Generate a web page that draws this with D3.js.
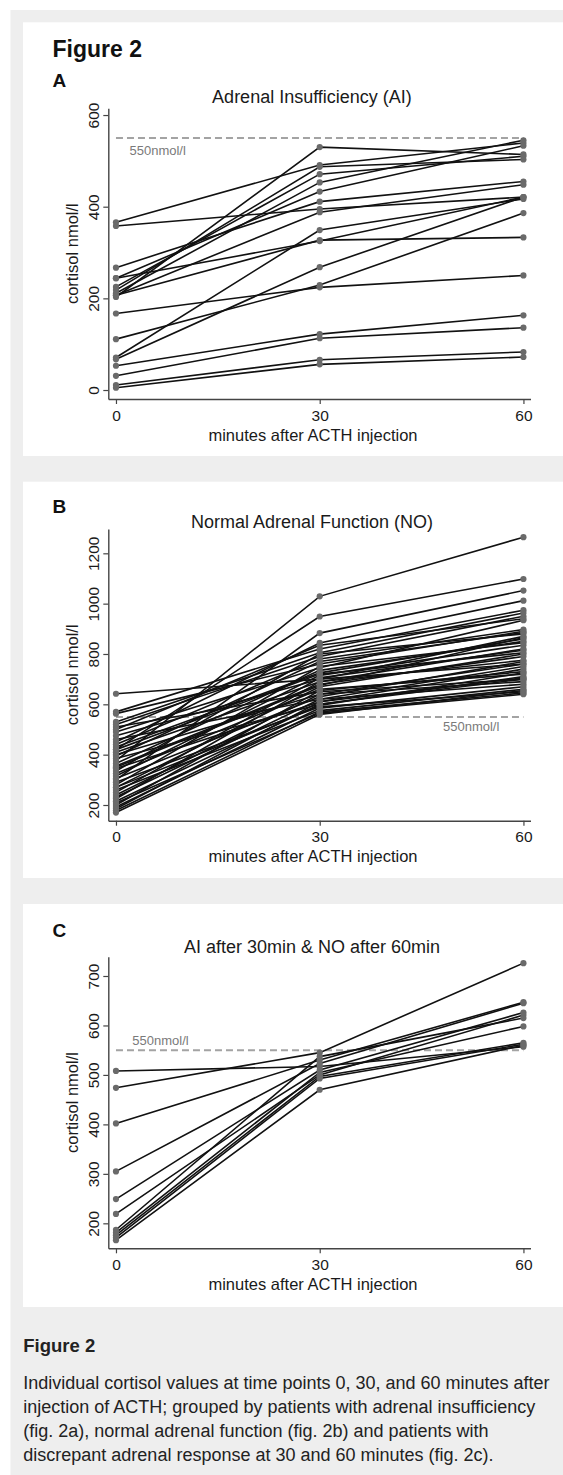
<!DOCTYPE html>
<html>
<head>
<meta charset="utf-8">
<script src="https://cdn.jsdelivr.net/npm/d3@7"></script>
<style>
  html, body { margin: 0; padding: 0; background: #ffffff; }
  svg { display: block; }
</style>
</head>
<body>
<div id="chart"></div>
<script>
// ---------------- DATA ----------------
const timePoints = [0, 30, 60];
const xTickLabels = ["0", "30", "60"];
const referenceValue = 550;
const referenceLabel = "550nmol/l";

const panelLetters = ["A", "B", "C"];
const panelTitles = [
  "Adrenal Insufficiency (AI)",
  "Normal Adrenal Function (NO)",
  "AI after 30min & NO after 60min"
];
const xAxisTitle = "minutes after ACTH injection";
const yAxisTitle = "cortisol nmol/l";

// Panel A: adrenal insufficiency (one entry per patient)
const aiT0  = [203, 366, 218, 225, 211, 244, 267, 358, 207,  71, 207, 244,  67, 111, 167,  53,  31,  11,   5];
const aiT30 = [530, 491, 487, 471, 453, 433, 411, 395, 388, 349, 327, 325, 268, 229, 224, 122, 113,  66,  56];
const aiT60 = [514, 539, 503, 510, 545, 533, 455, 421, 448, 417, 333, 421, 421, 386, 250, 163, 136,  83,  72];
const yTicksA = [0, 200, 400, 600];

// Panel B: normal adrenal function
const noT0  = [375, 420, 300, 450, 642, 570, 563, 530, 520, 510, 500, 490, 475, 460, 440,
               430, 410, 400, 395, 385, 365, 355, 345, 335, 325, 315, 305, 290, 280, 270,
               260, 250, 240, 232, 225, 215, 208, 200, 192, 185, 178, 170, 350, 420, 270];
const noT30 = [1029, 949, 883, 844, 700, 820, 760, 805, 790, 650, 835, 745, 700, 620, 780,
               725, 690, 640, 770, 600, 735, 680, 610, 800, 660, 715, 630, 590, 750, 670,
               575, 705, 640, 620, 690, 600, 565, 655, 585, 610, 570, 560, 675, 720, 595];
const noT60 = [1264, 1098, 1052, 1012, 760, 974, 890, 963, 950, 700, 940, 934, 870, 680, 897,
               860, 820, 760, 885, 700, 850, 790, 740, 880, 720, 835, 770, 650, 845, 800,
               660, 815, 690, 750, 775, 710, 640, 730, 670, 705, 645, 655, 865, 805, 725];
const yTicksB = [200, 400, 600, 800, 1000, 1200];

// Panel C: AI after 30 min & NO after 60 min
const dsT0  = [508, 474, 402, 305, 249, 219, 187, 181, 176, 171, 166];
const dsT30 = [517, 545, 530, 523, 510, 500, 537, 505, 497, 493, 470];
const dsT60 = [557, 726, 647, 645, 626, 621, 615, 598, 565, 562, 560];
const yTicksC = [200, 300, 400, 500, 600, 700];

// Caption
const captionTitle = "Figure 2";
const captionLines = [
  "Individual cortisol values at time points 0, 30, and 60 minutes after",
  "injection of ACTH; grouped by patients with adrenal insufficiency",
  "(fig. 2a), normal adrenal function (fig. 2b) and patients with",
  "discrepant adrenal response at 30 and 60 minutes (fig. 2c)."
];
const figureHeading = "Figure 2";

// ---------------- LAYOUT ----------------
const W = 563, H = 1475;
const FONT = "'Liberation Sans', Arial, Helvetica, sans-serif";
const axisLeftX = 108.3, axisRightX = 530.5;
const xDomain = [-1.13, 61.04];

const panels = [
  { letter: panelLetters[0], title: panelTitles[0], t0: aiT0, t30: aiT30, t60: aiT60, yTicks: yTicksA,
    yDomain: [-19.6, 614.7], top: 22.3, bottom: 456, axisTop: 108.3, axisBottom: 399,
    letterY: 87.3, titleY: 103.3, refX: 129.5, refDy: 17.3 },
  { letter: panelLetters[1], title: panelTitles[1], t0: noT0, t30: noT30, t60: noT60, yTicks: yTicksB,
    yDomain: [137.6, 1296.6], top: 481.7, bottom: 878, axisTop: 529, axisBottom: 820.7,
    letterY: 513.3, titleY: 528, refX: 443, refDy: 14.4 },
  { letter: panelLetters[2], title: panelTitles[2], t0: dsT0, t30: dsT30, t60: dsT60, yTicks: yTicksC,
    yDomain: [149.5, 739], top: 904, bottom: 1307, axisTop: 956.7, axisBottom: 1248.3,
    letterY: 936.7, titleY: 952.7, refX: 132.3, refDy: -4.7 }
];

const svg = d3.select("#chart").append("svg")
  .attr("width", W).attr("height", H)
  .attr("font-family", FONT);

svg.append("rect").attr("x", 0).attr("y", 0).attr("width", W).attr("height", H).attr("fill", "#ffffff");
svg.append("rect").attr("x", 10.5).attr("y", 10).attr("width", W - 10.5).attr("height", H - 10).attr("fill", "#eeeeee");

const x = d3.scaleLinear().domain(xDomain).range([axisLeftX, axisRightX]);

panels.forEach((p, pi) => {
  const g = svg.append("g");
  g.append("rect").attr("x", 23).attr("y", p.top).attr("width", W - 23).attr("height", p.bottom - p.top).attr("fill", "#ffffff");

  if (pi === 0) {
    g.append("text").attr("x", 52.5).attr("y", 56.7).attr("font-size", 23).attr("font-weight", "bold")
      .attr("fill", "#111").text(figureHeading);
  }
  g.append("text").attr("x", 52.5).attr("y", p.letterY).attr("font-size", 19).attr("font-weight", "bold")
    .attr("fill", "#111").text(p.letter);
  g.append("text").attr("x", 312).attr("y", p.titleY).attr("text-anchor", "middle").attr("font-size", 18)
    .attr("fill", "#1a1a1a").text(p.title);

  const y = d3.scaleLinear().domain(p.yDomain).range([p.axisBottom, p.axisTop]);

  // axes
  const yAxis = d3.axisLeft(y).tickValues(p.yTicks).tickSize(5).tickSizeOuter(0).tickFormat(d3.format("d"));
  const yg = g.append("g").attr("transform", `translate(${axisLeftX},0)`).call(yAxis);
  yg.select(".domain").attr("stroke", "#444").attr("stroke-width", 1.4);
  yg.selectAll(".tick line").attr("stroke", "#444").attr("stroke-width", 1.2);
  yg.selectAll(".tick text")
    .attr("transform", "rotate(-90)")
    .attr("x", 0).attr("y", -9.8).attr("dy", 0)
    .attr("text-anchor", "middle")
    .attr("font-size", 15.5).attr("font-family", FONT).attr("fill", "#1a1a1a");

  const xAxis = d3.axisBottom(x).tickValues(timePoints).tickSize(5).tickSizeOuter(0)
    .tickFormat((d, i) => xTickLabels[i]);
  const xg = g.append("g").attr("transform", `translate(0,${p.axisBottom})`).call(xAxis);
  xg.select(".domain").attr("stroke", "#444").attr("stroke-width", 1.4);
  xg.selectAll(".tick line").attr("stroke", "#444").attr("stroke-width", 1.2);
  xg.selectAll(".tick text").attr("y", 21.7).attr("dy", 0)
    .attr("font-size", 15.5).attr("font-family", FONT).attr("fill", "#1a1a1a");

  g.append("text").attr("x", 313).attr("y", p.axisBottom + 41.5).attr("text-anchor", "middle")
    .attr("font-size", 16.5).attr("fill", "#1a1a1a").text(xAxisTitle);
  g.append("text")
    .attr("transform", `translate(78,${(p.axisTop + p.axisBottom) / 2}) rotate(-90)`)
    .attr("text-anchor", "middle").attr("font-size", 16.5).attr("fill", "#1a1a1a").text(yAxisTitle);

  // reference line
  g.append("line")
    .attr("x1", x(timePoints[0])).attr("x2", x(timePoints[2]))
    .attr("y1", y(referenceValue)).attr("y2", y(referenceValue))
    .attr("stroke", "#a3a3a3").attr("stroke-width", 2).attr("stroke-dasharray", "7,4");
  g.append("text").attr("x", p.refX).attr("y", y(referenceValue) + p.refDy)
    .attr("font-size", 13).attr("fill", "#7a7a7a").text(referenceLabel);

  // series
  const rows = p.t0.map((v, i) => [v, p.t30[i], p.t60[i]]);
  const line = d3.line().x((d, i) => x(timePoints[i])).y(d => y(d));
  g.append("g").selectAll("path").data(rows).join("path")
    .attr("d", r => line(r))
    .attr("fill", "none").attr("stroke", "#111").attr("stroke-width", 1.6);
  const pts = [];
  rows.forEach(r => r.forEach((v, i) => pts.push([timePoints[i], v])));
  g.append("g").selectAll("circle").data(pts).join("circle")
    .attr("cx", d => x(d[0])).attr("cy", d => y(d[1])).attr("r", 3.1)
    .attr("fill", "#6a6a6a");
});

// caption
svg.append("text").attr("x", 23.3).attr("y", 1352).attr("font-size", 18.5).attr("font-weight", "bold")
  .attr("fill", "#222").text(captionTitle);
svg.append("g").selectAll("text").data(captionLines).join("text")
  .attr("x", 23.3).attr("y", (d, i) => 1389 + i * 24)
  .attr("font-size", 18).attr("fill", "#222").text(d => d);
</script>
</body>
</html>
